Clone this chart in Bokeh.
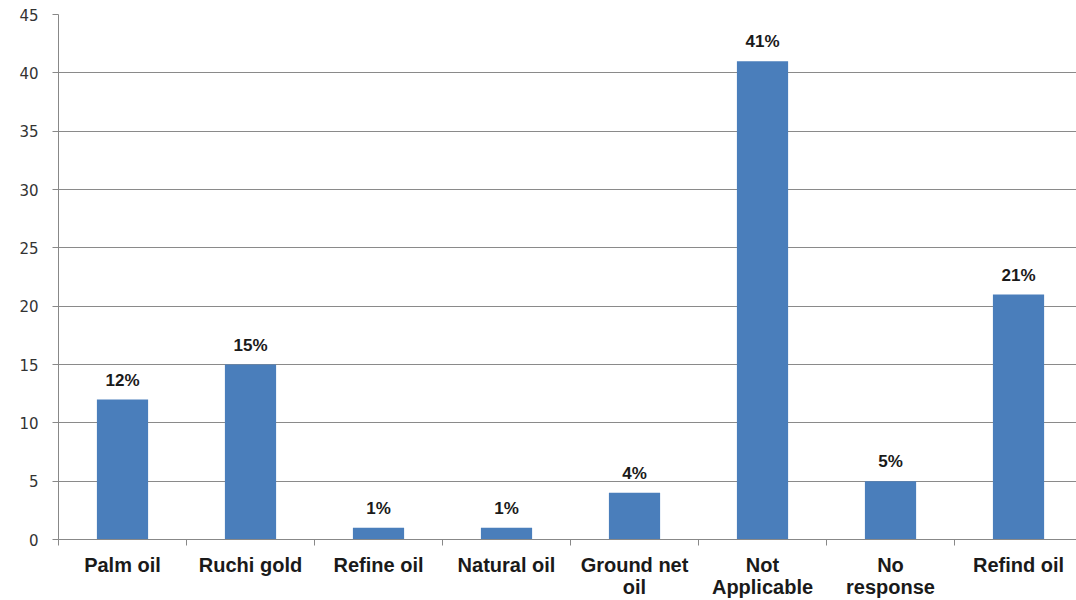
from bokeh.plotting import figure
from bokeh.models import ColumnDataSource, Range1d, FixedTicker, LabelSet
from bokeh.core.properties import value
from bokeh.embed import file_html
from bokeh.resources import INLINE

categories = ["Palm oil", "Ruchi gold", "Refine oil", "Natural oil",
              "Ground net\noil", "Not\nApplicable", "No\nresponse", "Refind oil"]
values = [12, 15, 1, 1, 4, 41, 5, 21]
labels = ["12%", "15%", "1%", "1%", "4%", "41%", "5%", "21%"]
y_ticks = [0, 5, 10, 15, 20, 25, 30, 35, 40, 45]

xs = [i + 0.5 for i in range(len(categories))]
src = ColumnDataSource(dict(x=xs, top=values, lab=labels))

p = figure(width=1076, height=600, output_backend="svg", toolbar_location=None,
           x_range=Range1d(0, 7.953), y_range=Range1d(0, 45),
           min_border_left=58, min_border_right=0, min_border_top=14, min_border_bottom=60)
p.outline_line_color = None
p.background_fill_color = "white"

p.vbar(x="x", top="top", width=0.4, source=src, color="#4A7EBB", line_color=None)

p.add_layout(LabelSet(x="x", y="top", text="lab", source=src, y_offset=10,
                      text_align="center", text_baseline="bottom",
                      text_font=value("Liberation Sans"), text_font_style="bold",
                      text_font_size="17px", text_color="#1a1a1a"))

p.xaxis.ticker = FixedTicker(ticks=xs, minor_ticks=list(range(0, 9)))
p.xaxis.major_label_overrides = {x: c for x, c in zip(xs, categories)}
p.xaxis.major_tick_out = 0
p.xaxis.major_tick_in = 0
p.xaxis.minor_tick_out = 6
p.xaxis.minor_tick_in = 0
p.xaxis.minor_tick_line_color = "#888888"
p.xaxis.axis_line_color = "#888888"
p.xaxis.major_label_text_font = "Liberation Sans"
p.xaxis.major_label_text_font_style = "bold"
p.xaxis.major_label_text_font_size = "20px"
p.xaxis.major_label_text_line_height = 1.0
p.xaxis.major_label_text_color = "#1a1a1a"
p.xaxis.major_label_standoff = 8
p.xgrid.visible = False

p.yaxis.ticker = FixedTicker(ticks=y_ticks, minor_ticks=[])
p.yaxis.major_tick_out = 6
p.yaxis.major_tick_in = 0
p.yaxis.major_tick_line_color = "#888888"
p.yaxis.axis_line_color = "#888888"
p.yaxis.major_label_text_font = "DejaVu Sans"
p.yaxis.major_label_text_font_size = "15px"
p.yaxis.major_label_text_color = "#333333"
p.yaxis.major_label_standoff = 14
p.ygrid.grid_line_color = "#8a8a8a"
p.ygrid.grid_line_width = 1

open("out.html", "w").write(file_html(p, INLINE))
